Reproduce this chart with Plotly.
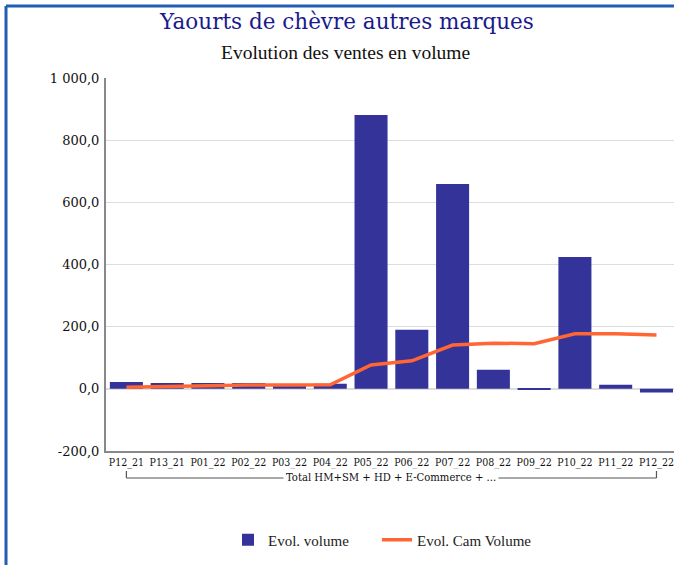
import plotly.graph_objects as go

periods = ["P12_21", "P13_21", "P01_22", "P02_22", "P03_22", "P04_22", "P05_22",
           "P06_22", "P07_22", "P08_22", "P09_22", "P10_22", "P11_22", "P12_22"]
evol_volume = [22, 19, 19, 19, 10, 16, 881, 190, 659, 61, -2, 424, 13, -12]
evol_cam_volume = [5, 8, 10, 12, 12, 13, 77, 90, 141, 147, 145, 177, 177, 173]
group_label = "Total HM+SM + HD + E-Commerce + ..."
y_ticks = [-200, 0, 200, 400, 600, 800, 1000]
y_tick_text = ["-200,0", "0,0", "200,0", "400,0", "600,0", "800,0", "1 000,0"]

W, H = 674, 565
ML, MR, MT, MB = 106, 0, 78, 114
plot_w = W - ML - MR
plot_h = H - MT - MB


def px_x(p):
    return (p - ML) / plot_w


def px_y(p):
    return (H - MB - p) / plot_h


fig = go.Figure()
fig.add_trace(go.Bar(
    x=periods, y=evol_volume, name="Evol. volume", legend="legend",
    marker=dict(color="#333399", line=dict(width=0)),
))
fig.add_trace(go.Scatter(
    x=periods, y=evol_cam_volume, name="Evol. Cam Volume", mode="lines", legend="legend2",
    line=dict(color="#ff6633", width=3.5),
))

serif = "DejaVu Serif"
times = "Liberation Serif"
cond = "DejaVu Serif Condensed"

legend_font = dict(family=times, size=15, color="#222")

fig.update_layout(
    width=W, height=H,
    margin=dict(l=ML, r=MR, t=MT, b=MB),
    paper_bgcolor="white", plot_bgcolor="white",
    bargap=0.19,
    showlegend=True,
    legend=dict(orientation="h", x=px_x(228), xanchor="left", y=px_y(540), yanchor="middle",
                font=legend_font, itemwidth=30),
    legend2=dict(orientation="h", x=px_x(377), xanchor="left", y=px_y(540), yanchor="middle",
                 font=legend_font, itemwidth=30),
    xaxis=dict(
        type="category", range=[-0.5, 13.43],
        showgrid=False, showline=True, linecolor="#888", linewidth=2,
        ticks="", tickfont=dict(family=cond, size=10.5, color="#111"),
        tickangle=0, fixedrange=True,
    ),
    yaxis=dict(
        range=[-200, 1000], tickmode="array", tickvals=y_ticks, ticktext=y_tick_text,
        showgrid=True, gridcolor="#dddddd", gridwidth=1,
        zeroline=True, zerolinecolor="#dddddd", zerolinewidth=2,
        showline=True, linecolor="#888", linewidth=2,
        ticks="", ticklabelstandoff=2,
        tickfont=dict(family=serif, size=13, color="#111"),
    ),
)

# Title and subtitle
fig.add_annotation(text="Yaourts de chèvre autres marques", xref="paper", yref="paper",
                   x=px_x(346), y=px_y(22), xanchor="center", yanchor="middle",
                   showarrow=False, font=dict(family=serif, size=21.5, color="#1a1a8c"))
fig.add_annotation(text="Evolution des ventes en volume", xref="paper", yref="paper",
                   x=px_x(345), y=px_y(53), xanchor="center", yanchor="middle",
                   showarrow=False, font=dict(family=times, size=19.5, color="#111"))

# Category group bracket under the period labels
yb, yt = px_y(478), px_y(471)
for seg in [(0, yb, 13, yb), (0, yb, 0, yt), (13, yb, 13, yt)]:
    fig.add_shape(type="line", xref="x", yref="paper",
                  x0=seg[0], y0=seg[1], x1=seg[2], y1=seg[3],
                  line=dict(color="#555", width=1.2))
fig.add_annotation(text=group_label, xref="paper", yref="paper",
                   x=px_x(391), y=px_y(477), xanchor="center", yanchor="middle",
                   showarrow=False, bgcolor="white", borderpad=2,
                   font=dict(family=cond, size=11.2, color="#111"))

# Blue frame (left and top edges)
frame = dict(color="#1f5fb4", width=3)
fig.add_shape(type="line", xref="paper", yref="paper",
              x0=px_x(6), y0=px_y(6), x1=px_x(6), y1=px_y(575), line=frame)
fig.add_shape(type="line", xref="paper", yref="paper",
              x0=px_x(6), y0=px_y(6), x1=px_x(690), y1=px_y(6), line=frame)

fig.write_html("out.html")
